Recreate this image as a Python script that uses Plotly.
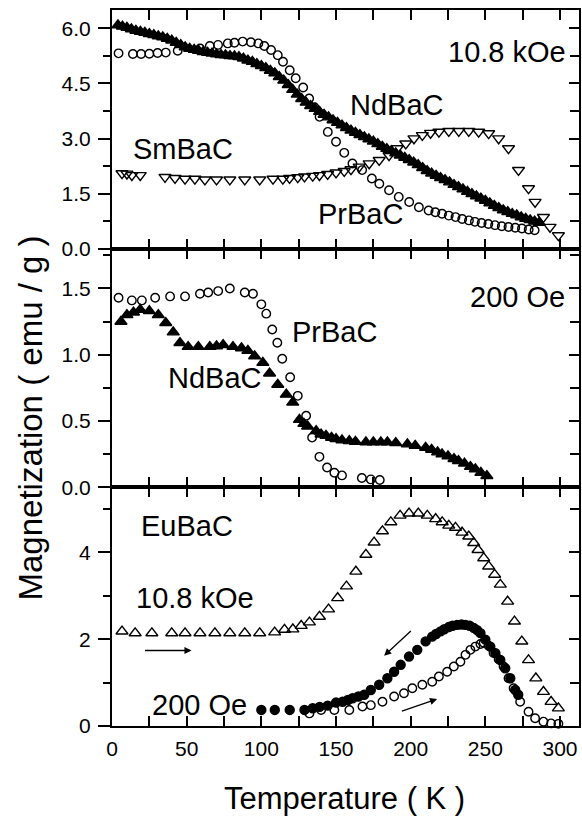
import plotly.graph_objects as go
from plotly.subplots import make_subplots

# ---------------- data ----------------
# Top panel, 10.8 kOe
top_T_nd = [4, 7, 10, 13, 16, 19, 22, 25, 28, 31, 34, 37, 40, 43, 46, 49, 52, 55, 58, 61,
            64, 67, 70, 73, 76, 79, 82, 85, 88, 91, 94, 97, 100, 103, 106, 109, 112, 115, 118, 121,
            124, 127, 130, 133, 136, 139, 142, 145, 148, 151, 154, 157, 160, 163, 166, 169, 172, 175, 178, 181,
            184, 187, 190, 193, 196, 199, 202, 205, 208, 211, 214, 217, 220, 223, 226, 229, 232, 235, 238, 241,
            244, 247, 250, 253, 256, 259, 262, 265, 268, 271, 274, 277, 280, 283, 286]
top_M_nd = [6.09, 6.05, 6.02, 5.98, 5.94, 5.91, 5.88, 5.85, 5.82, 5.79, 5.76, 5.72, 5.67, 5.61, 5.55, 5.49, 5.45, 5.42, 5.39, 5.36,
            5.34, 5.32, 5.30, 5.28, 5.27, 5.25, 5.24, 5.22, 5.18, 5.13, 5.09, 5.03, 4.98, 4.92, 4.85, 4.78, 4.68, 4.58, 4.46, 4.33,
            4.20, 4.08, 3.98, 3.89, 3.81, 3.73, 3.65, 3.58, 3.50, 3.43, 3.36, 3.29, 3.22, 3.16, 3.10, 3.04, 2.98, 2.92, 2.85, 2.78,
            2.72, 2.66, 2.60, 2.54, 2.48, 2.42, 2.35, 2.28, 2.20, 2.12, 2.05, 1.99, 1.93, 1.87, 1.81, 1.74, 1.68, 1.62, 1.55, 1.49,
            1.43, 1.37, 1.31, 1.24, 1.17, 1.11, 1.05, 1.00, 0.95, 0.91, 0.86, 0.82, 0.78, 0.74, 0.71]

top_T_pr = [4.4, 14, 19.5, 25, 30.5, 36, 44, 59, 65.5, 71, 77.5, 82, 87.5, 93, 98, 102, 106.5, 111, 114.5, 119,
            123, 128, 132, 135.5, 139, 144.5, 150, 155.5, 161, 167.5, 174, 179, 185.5, 192, 199, 205.5, 212, 216.5, 221, 225.5,
            230, 234.5, 239, 243, 247.5, 252, 256.5, 261, 265.5, 270, 274.5, 279, 283]
top_M_pr = [5.32, 5.30, 5.30, 5.31, 5.33, 5.34, 5.39, 5.45, 5.52, 5.55, 5.59, 5.61, 5.64, 5.62, 5.59, 5.52, 5.41, 5.27, 5.09, 4.86,
            4.64, 4.39, 4.09, 3.85, 3.59, 3.18, 2.91, 2.61, 2.32, 2.14, 1.91, 1.77, 1.59, 1.41, 1.27, 1.13, 1.04, 0.99, 0.95, 0.90,
            0.86, 0.81, 0.77, 0.73, 0.70, 0.67, 0.64, 0.61, 0.59, 0.57, 0.55, 0.52, 0.50]

top_T_sm = [6.7, 10, 13.3, 18.9, 35.5, 42.2, 48.9, 55.5, 62.2, 70, 78.9, 88.9, 98.9, 107.8, 114.4, 118.9, 124.4, 128.9, 134.4, 138.9,
            144.4, 150, 155.5, 160, 165.5, 172.2, 178.9, 185.5, 191, 196.7, 202.2, 207.8, 213.3, 218.9, 225.5, 232.2, 238.9, 245.5, 252.2, 258.9,
            265.5, 272.2, 278.9, 283.3, 288.9, 293.3, 298.9]
top_M_sm = [2.05, 2.04, 2.00, 2.00, 1.95, 1.92, 1.90, 1.90, 1.88, 1.88, 1.88, 1.88, 1.88, 1.90, 1.90, 1.92, 1.94, 1.96, 1.98, 2.00,
            2.03, 2.07, 2.11, 2.16, 2.23, 2.32, 2.41, 2.54, 2.73, 2.86, 3.00, 3.09, 3.15, 3.18, 3.20, 3.20, 3.20, 3.18, 3.14, 3.00,
            2.73, 2.14, 1.64, 1.27, 0.86, 0.59, 0.36]

# Middle panel, 200 Oe
mid_T_pr = [4.4, 13.3, 20, 28.9, 38.9, 48.9, 58.9, 64.4, 71.1, 78.9, 88.9, 94.4, 100, 103.3, 107.3, 110.7, 114, 119.3, 124.4, 130,
            134, 138.9, 144, 148.9, 154, 167.3, 173.3, 179.3]
mid_M_pr = [1.43, 1.41, 1.41, 1.43, 1.44, 1.44, 1.46, 1.47, 1.48, 1.50, 1.47, 1.46, 1.38, 1.31, 1.19, 1.09, 0.97, 0.83, 0.69, 0.54,
            0.375, 0.23, 0.15, 0.11, 0.09, 0.07, 0.06, 0.055]

mid_T_nd = [6, 10, 14.4, 18.9, 25, 31, 36, 41, 45.5, 51, 57.8, 65.5, 70, 74.4, 81, 86.7, 91, 95.5, 101, 105.5,
            111, 116.7, 121, 125.5, 128.5, 131, 136.7, 140, 143.3, 147, 150, 154, 158.9, 163, 170, 175, 180, 184.4, 190, 197.8,
            203, 210, 214, 218, 221, 225, 229, 232, 236, 240, 243.3, 247, 251]
mid_M_nd = [1.25, 1.30, 1.32, 1.34, 1.33, 1.30, 1.24, 1.17, 1.09, 1.06, 1.06, 1.06, 1.065, 1.075, 1.06, 1.05, 1.03, 0.99, 0.94, 0.86,
            0.775, 0.70, 0.64, 0.51, 0.48, 0.46, 0.425, 0.40, 0.39, 0.375, 0.365, 0.355, 0.35, 0.345, 0.34, 0.34, 0.34, 0.34, 0.335, 0.325,
            0.315, 0.30, 0.285, 0.265, 0.25, 0.235, 0.215, 0.20, 0.18, 0.155, 0.137, 0.11, 0.087]

# Bottom panel, EuBaC
bot_T_hi = [6.7, 15.5, 26.7, 40, 48.9, 58.9, 68.9, 78.9, 88.9, 98.9, 108.9, 115.5, 121.1, 126.7, 132.2, 138.9, 145, 151.1, 157, 163.3,
            170, 175.5, 181.1, 186.7, 192.9, 198.9, 205.1, 211.1, 216.7, 221.1, 225.5, 230, 234.4, 238.9, 242.2, 245.1, 248.9, 252.2, 256.2, 260,
            264.9, 269.5, 274.4, 278.9, 283.8, 288.9, 294, 298.9]
bot_M_hi = [2.18, 2.14, 2.14, 2.14, 2.14, 2.14, 2.14, 2.14, 2.14, 2.14, 2.16, 2.22, 2.23, 2.31, 2.39, 2.52, 2.69, 2.95, 3.22, 3.56,
            3.95, 4.23, 4.49, 4.70, 4.85, 4.90, 4.90, 4.85, 4.77, 4.70, 4.62, 4.57, 4.46, 4.37, 4.22, 4.06, 3.87, 3.68, 3.49, 3.26,
            2.87, 2.41, 1.95, 1.52, 1.10, 0.79, 0.56, 0.41]

bot_T_zfc = [132.2, 140, 148.9, 158.9, 167.7, 173.3, 181.1, 188.9, 195.5, 201.1, 207.8, 214.4, 218.9, 224.4, 228.9, 233.3, 236.7, 240, 243.3, 246.7,
             248.9, 252.2, 255.5, 258.9, 262.2, 265.5, 268.9, 273.3, 278.9, 283.3, 288.9, 294, 298.9]
bot_M_zfc = [0.29, 0.37, 0.37, 0.37, 0.45, 0.48, 0.56, 0.68, 0.755, 0.87, 0.95, 1.02, 1.14, 1.25, 1.37, 1.48, 1.64, 1.755, 1.83, 1.89,
             1.92, 1.85, 1.68, 1.54, 1.37, 1.10, 0.87, 0.56, 0.33, 0.18, 0.10, 0.06, 0.05]

bot_T_fc = [100, 109, 119, 128.9, 134.4, 139, 144.4, 150, 154.4, 158, 161.1, 165, 168.9, 173.3, 178.9, 184.4, 188.9, 193.3, 198.9, 204.4,
            210, 214.4, 217, 220, 222.5, 225.5, 228, 231.1, 234, 236.7, 239.5, 242.2, 244.5, 246.7, 250, 253.3, 256.7, 260, 263.3, 266.7,
            270, 272]
bot_M_fc = [0.37, 0.37, 0.37, 0.37, 0.41, 0.44, 0.47, 0.54, 0.56, 0.60, 0.64, 0.68, 0.72, 0.83, 0.95, 1.10, 1.25, 1.41, 1.60, 1.755,
            1.95, 2.06, 2.12, 2.18, 2.23, 2.28, 2.31, 2.33, 2.34, 2.33, 2.31, 2.26, 2.21, 2.14, 1.99, 1.83, 1.68, 1.52, 1.33, 1.10,
            0.83, 0.72]

y_ranges = [[0, 6.5], [0, 1.8], [0, 5.5]]
y_dticks = [1.5, 0.5, 2]
y_minor = [0.75, 0.25, 1]
y_formats = [".1f", ".1f", "d"]

# ---------------- figure ----------------
FONT = "Liberation Sans, Arial, Helvetica, sans-serif"
fig = make_subplots(rows=3, cols=1, shared_xaxes=True, vertical_spacing=0)

def add(row, xs, ys, symbol, size, lw=1.4):
    mk = dict(symbol=symbol, size=size, color="black", line=dict(color="black", width=lw))
    fig.add_trace(go.Scatter(x=xs, y=ys, mode="markers", marker=mk, showlegend=False,
                             cliponaxis=False), row=row, col=1)

# top
add(1, top_T_nd, top_M_nd, "triangle-up", 10.5)
add(1, top_T_pr, top_M_pr, "circle-open", 8.5)
add(1, top_T_sm, top_M_sm, "triangle-down-open", 10.5)
# middle
add(2, mid_T_nd, mid_M_nd, "triangle-up", 10.5)
add(2, mid_T_pr, mid_M_pr, "circle-open", 8.5)
# bottom
add(3, bot_T_hi, bot_M_hi, "triangle-up-open", 10.5)
add(3, bot_T_zfc, bot_M_zfc, "circle-open", 8.5)
add(3, bot_T_fc, bot_M_fc, "circle", 9)

axis_line = dict(showline=True, linecolor="black", linewidth=2, showgrid=False, zeroline=False)

for i in range(3):
    fig.update_xaxes(range=[0, 312.7], dtick=50, tick0=0, ticks="inside", ticklen=10, tickwidth=1.6,
                     tickcolor="black", mirror="allticks",
                     minor=dict(dtick=25, ticks="inside", ticklen=6, tickwidth=1.6, tickcolor="black"),
                     tickfont=dict(family=FONT, size=21, color="black"), ticklabelstandoff=3,
                     **axis_line, row=i + 1, col=1)
    fig.update_yaxes(range=y_ranges[i], dtick=y_dticks[i], tick0=0, ticks="outside", ticklen=12, tickwidth=1.6,
                     tickcolor="black", mirror=True, tickformat=y_formats[i],
                     minor=dict(dtick=y_minor[i], ticks="outside", ticklen=7, tickwidth=1.6, tickcolor="black"),
                     tickfont=dict(family=FONT, size=21, color="black"), ticklabelstandoff=3,
                     **axis_line, row=i + 1, col=1)

# right-hand inward ticks via overlay axes
for i in range(3):
    n = i + 4
    base = "y" if i == 0 else f"y{i+1}"
    xa = "x" if i == 0 else f"x{i+1}"
    fig.add_trace(go.Scatter(x=[None], y=[None], xaxis=xa, yaxis=f"y{n}", showlegend=False))
    fig.layout[f"yaxis{n}"] = dict(overlaying=base, side="right", anchor=xa, range=y_ranges[i],
                                   dtick=y_dticks[i], tick0=0, ticks="inside", ticklen=10, tickwidth=1.6,
                                   tickcolor="black", showticklabels=False, showgrid=False, zeroline=False,
                                   showline=False,
                                   minor=dict(dtick=y_minor[i], ticks="inside", ticklen=9, tickwidth=1.6,
                                              tickcolor="black"))

# ---------------- text labels ----------------
labels = [
    ("10.8 kOe", 305.5, 5.36, "x", "y", "right"),
    ("NdBaC", 190.5, 3.91, "x", "y", "center"),
    ("SmBaC", 47.7, 2.71, "x", "y", "center"),
    ("PrBaC", 166.7, 0.95, "x", "y", "center"),
    ("200 Oe", 304.4, 1.437, "x2", "y2", "right"),
    ("PrBaC", 148.9, 1.175, "x2", "y2", "center"),
    ("NdBaC", 68.9, 0.825, "x2", "y2", "center"),
    ("EuBaC", 50.5, 4.60, "x3", "y3", "center"),
    ("10.8 kOe", 55.5, 2.95, "x3", "y3", "center"),
    ("200 Oe", 58.9, 0.485, "x3", "y3", "center"),
]
for txt, x, y, xr, yr, xa in labels:
    fig.add_annotation(text=txt, x=x, y=y, xref=xr, yref=yr, xanchor=xa, yanchor="middle",
                       showarrow=False, font=dict(family=FONT, size=29, color="black"))

# arrows (tail -> head)
arrows = [((21.1, 1.74), (53.3, 1.74)),
          ((201.1, 2.22), (182.2, 1.62)),
          ((193.1, 0.33), (217.7, 0.62))]
for (tx, ty), (hx, hy) in arrows:
    fig.add_annotation(x=hx, y=hy, ax=tx, ay=ty, xref="x3", yref="y3", axref="x3", ayref="y3",
                       text="", showarrow=True, arrowhead=2, arrowsize=1.1, arrowwidth=1.3,
                       arrowcolor="black", standoff=0, startstandoff=0)

# axis titles
fig.add_annotation(text="Temperature ( K )", xref="paper", yref="paper", x=0.497, y=-0.1006,
                   xanchor="center", yanchor="middle", showarrow=False,
                   font=dict(family=FONT, size=31, color="black"))
fig.add_annotation(text="Magnetization ( emu / g )", xref="paper", yref="paper", x=-0.1748, y=0.43,
                   xanchor="center", yanchor="middle", textangle=-90, showarrow=False,
                   font=dict(family=FONT, size=33, color="black"))

fig.update_layout(width=582, height=819, margin=dict(l=112, r=1, t=10, b=93),
                  plot_bgcolor="white", paper_bgcolor="white", showlegend=False)

fig.write_html("out.html")
